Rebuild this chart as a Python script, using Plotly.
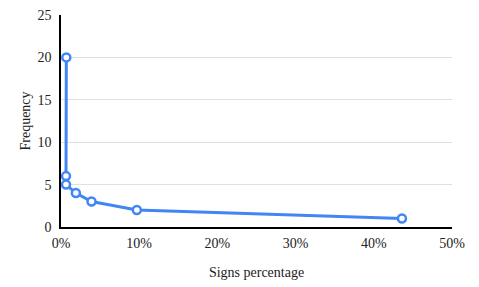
import plotly.graph_objects as go

signs_pct = [0.0068, 0.0064, 0.0064, 0.019, 0.039, 0.097, 0.436]
frequency = [20, 6, 5, 4, 3, 2, 1]
x_ticks = [0, 0.1, 0.2, 0.3, 0.4, 0.5]
x_tick_labels = ["0%", "10%", "20%", "30%", "40%", "50%"]
y_ticks = [0, 5, 10, 15, 20, 25]

blue = "#4285F4"
fig = go.Figure(go.Scatter(
    x=signs_pct, y=frequency, mode="lines+markers",
    line=dict(color=blue, width=3),
    marker=dict(symbol="circle", size=8, color="white", line=dict(color=blue, width=2.5)),
    cliponaxis=False,
))
font = dict(family="Liberation Serif", size=14, color="#222")
# page body adds an 8px offset; size figure to compensate
fig.update_layout(
    width=471, height=279, margin=dict(l=53, r=27, t=7, b=60),
    paper_bgcolor="white", plot_bgcolor="white", showlegend=False, font=font,
    xaxis=dict(range=[0, 0.5], tickvals=x_ticks, ticktext=x_tick_labels, showgrid=False,
               showline=True, linecolor="black", linewidth=1.5, zeroline=False,
               ticks="", ticklen=0, tickfont=font, automargin=False,
               ticklabeloverflow="allow", ticklabelstandoff=2,
               title=dict(text="Signs percentage", font=font, standoff=18)),
    yaxis=dict(range=[0, 25], tickvals=y_ticks, showgrid=True, gridcolor="#e0e0e0", gridwidth=1,
               showline=True, linecolor="black", linewidth=1.5, zeroline=False,
               ticks="", tickfont=font, automargin=False, ticklabeloverflow="allow",
               ticklabelstandoff=5,
               title=dict(text="Frequency", font=font, standoff=4)),
)
fig.write_html("out.html")
